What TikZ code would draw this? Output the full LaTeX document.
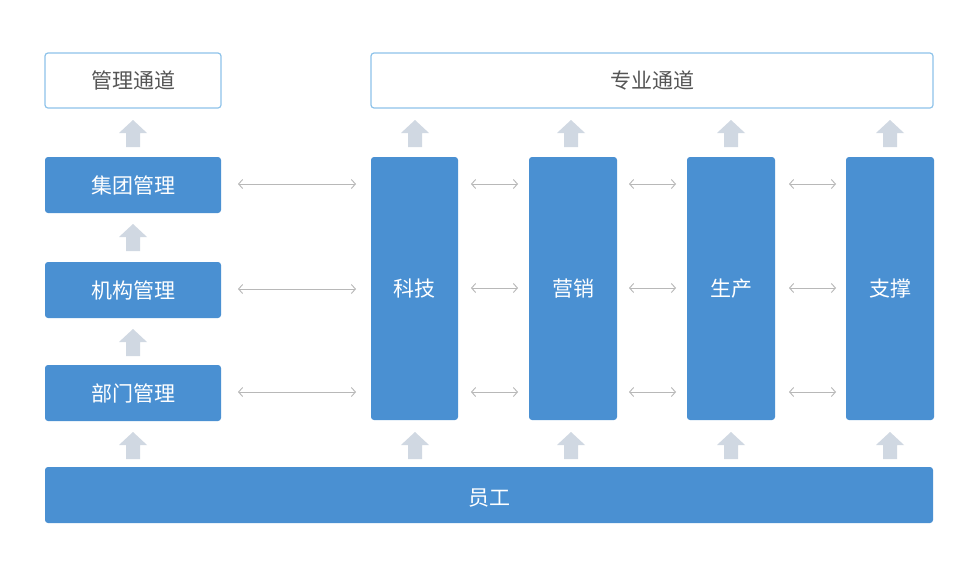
\documentclass[tikz,border=0pt]{standalone}
\usepackage{fontspec}
\setmainfont{Noto Sans CJK SC}
\usetikzlibrary{arrows.meta}
\definecolor{bb}{HTML}{4A90D2}
\definecolor{ob}{HTML}{8EC3EA}
\definecolor{ga}{HTML}{D0D8E2}
\definecolor{gl}{HTML}{B8B8B8}
\definecolor{tx}{HTML}{555555}
\tikzset{
 blue/.style={fill=bb,rounded corners=3pt,text=white,font=\fontsize{21}{24}\selectfont},
 outl/.style={draw=ob,line width=1.2pt,fill=white,rounded corners=3pt,text=tx,font=\fontsize{21}{24}\selectfont},
 dbl/.style={gl,line width=0.9pt,{Straight Barb[length=4pt,width=9pt]}-{Straight Barb[length=4pt,width=9pt]}}
}
\newcommand{\fatup}[2]{\fill[ga] (#1-7,#2+27) -- (#1-7,#2+13) -- (#1-14,#2+13) -- (#1,#2) -- (#1+14,#2+13) -- (#1+7,#2+13) -- (#1+7,#2+27) -- cycle;}
\begin{document}
\begin{tikzpicture}[x=1pt,y=-1pt]
\useasboundingbox[fill=white] (0,0) rectangle (975,579);
\def\bx#1#2#3#4#5#6{\path[#6] (#2,#3) rectangle (#4,#5) node[midway] (#1) {};}
\path[outl] (45,53) rectangle (221,108); \node[text=tx,font=\fontsize{21}{24}\selectfont] (gl) at (133,80.5) {管理通道};
\path[outl] (371,53) rectangle (933,108); \node[text=tx,font=\fontsize{21}{24}\selectfont] (zy) at (652,80.5) {专业通道};
\foreach \n/\t/\ya/\yb in {jt/集团管理/157/213, jg/机构管理/262/318, bm/部门管理/365/421}{
 \path[fill=bb,rounded corners=3pt] (45,\ya) rectangle (221,\yb);
 \node[text=white,font=\fontsize{21}{24}\selectfont] (\n) at (133,{(\ya+\yb)/2}) {\t};
}
\foreach \n/\t/\xa/\xb in {kj/科技/371/458, yx/营销/529/617, sc/生产/687/775, zc/支撑/846/934}{
 \path[fill=bb,rounded corners=3pt] (\xa,157) rectangle (\xb,420);
 \node[text=white,font=\fontsize{21}{24}\selectfont] (\n) at ({(\xa+\xb)/2},288.5) {\t};
}
\path[fill=bb,rounded corners=3pt] (45,467) rectangle (933,523);
\node[text=white,font=\fontsize{21}{24}\selectfont] (yg) at (489,498) {员工};
\foreach \y in {120,224,329,432} {\fatup{133}{\y}}
\foreach \x in {415,571,731,890} {\fatup{\x}{120} \fatup{\x}{432}}
\foreach \y in {184,289,392} {\draw[dbl] (238,\y) -- (356,\y);}
\foreach \xa/\xb in {471/518,629/676,789/836} {\foreach \y in {184,288,392} {\draw[dbl] (\xa,\y) -- (\xb,\y);}}
\end{tikzpicture}
\end{document}
